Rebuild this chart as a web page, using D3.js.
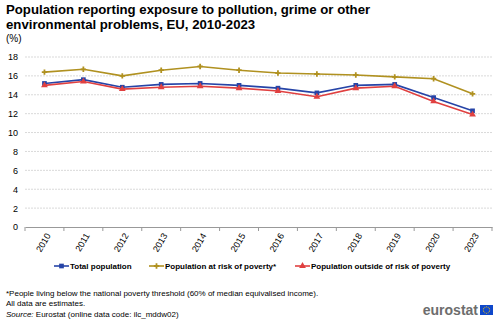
<!DOCTYPE html>
<meta charset="utf-8">
<script src="https://d3js.org/d3.v7.min.js"></script>
<style>
body { margin: 0; background: #fff; }
text { font-family: "Liberation Sans", Arial, sans-serif; fill: #000; }
.grid line { stroke: #d9d9d9; stroke-dasharray: 2,1; }
.line { fill: none; stroke-width: 1.6px; }
</style>
<body>
<div id="chart"></div>
<script>
// data
var years = ['2010','2011','2012','2013','2014','2015','2016','2017','2018','2019','2020','2023'];
var totalPop   = [15.2, 15.6, 14.8, 15.1, 15.2, 15.0, 14.7, 14.2, 15.0, 15.1, 13.7, 12.3];
var riskPop    = [16.4, 16.7, 16.0, 16.6, 17.0, 16.6, 16.3, 16.2, 16.1, 15.9, 15.7, 14.1];
var outsidePop = [15.0, 15.4, 14.6, 14.8, 14.9, 14.7, 14.4, 13.8, 14.7, 14.9, 13.3, 11.9];
var yTicks = [0, 2, 4, 6, 8, 10, 12, 14, 16, 18];

var series = [
    {name: 'Total population', values: totalPop, color: '#2644a7', symbol: d3.symbolSquare, size: 22},
    {name: 'Population at risk of poverty*', values: riskPop, color: '#b09120', symbol: d3.symbolCross, size: 16},
    {name: 'Population outside of risk of poverty', values: outsidePop, color: '#e04040', symbol: d3.symbolTriangle, size: 20}
];

var W = 500, H = 321;
var margin = {top: 57, left: 25, right: 8, bottom: 94};

var svg = d3.select('#chart').append('svg')
    .attr('width', W)
    .attr('height', H);

// titles
svg.append('text')
    .attr('x', 6).attr('y', 14)
    .style('font-size', '13.2px').style('font-weight', 'bold')
    .text('Population reporting exposure to pollution, grime or other');
svg.append('text')
    .attr('x', 6).attr('y', 29)
    .style('font-size', '13.2px').style('font-weight', 'bold')
    .text('environmental problems, EU, 2010-2023');
svg.append('text')
    .attr('x', 6).attr('y', 42)
    .style('font-size', '10px')
    .text('(%)');

// scales
var x = d3.scaleBand()
    .domain(years)
    .range([margin.left, W - margin.right]);

var y = d3.scaleLinear()
    .domain([0, 18])
    .range([227, margin.top]);

// gridlines
svg.append('g')
    .attr('class', 'grid')
    .selectAll('line')
    .data(yTicks.filter(function(d) { return d > 0; }))
    .enter()
    .append('line')
    .attr('x1', margin.left)
    .attr('x2', W - margin.right)
    .attr('y1', function(d) { return y(d); })
    .attr('y2', function(d) { return y(d); });

// y axis labels
var yaxis = d3.axisLeft(y).tickValues(yTicks).tickSize(0).tickPadding(0);
var gy = svg.append('g')
    .attr('transform', 'translate(18,0)')
    .call(yaxis);
gy.select('.domain').remove();
gy.selectAll('text')
    .style('font-size', '9px')
    .style('font-family', '"Liberation Sans", Arial, sans-serif')
    .attr('fill', '#333');

// x axis
var xaxis = d3.axisBottom(x).tickSizeOuter(0).tickSize(0);
var gx = svg.append('g')
    .attr('transform', 'translate(0,227)')
    .call(xaxis);
gx.select('.domain').attr('stroke', '#999');
// band boundary ticks
gx.selectAll('.bandtick')
    .data(d3.range(years.length + 1))
    .enter()
    .append('line')
    .attr('x1', function(i) { return margin.left + i * x.step(); })
    .attr('x2', function(i) { return margin.left + i * x.step(); })
    .attr('y1', 0).attr('y2', 4)
    .attr('stroke', '#999');
gx.selectAll('.tick text')
    .style('font-size', '9px')
    .style('font-family', '"Liberation Sans", Arial, sans-serif')
    .attr('fill', '#444')
    .attr('text-anchor', 'end')
    .attr('dx', 0).attr('dy', 0)
    .attr('transform', 'translate(4,7) rotate(-60)');

// lines and markers
var cx = function(d, i) { return x(years[i]) + x.bandwidth() / 2; };
series.forEach(function(s) {
    var line = d3.line()
        .x(cx)
        .y(function(d) { return y(d); });

    svg.append('path')
        .datum(s.values)
        .attr('class', 'line')
        .attr('stroke', s.color)
        .attr('d', line);

    svg.selectAll(null)
        .data(s.values)
        .enter()
        .append('path')
        .attr('d', d3.symbol().type(s.symbol).size(s.size))
        .attr('transform', function(d, i) { return 'translate(' + cx(d, i) + ',' + y(d) + ')'; })
        .attr('fill', s.color);
});

// legend
var legendX = [54, 149, 295];
var legend = svg.selectAll('.legend')
    .data(series)
    .enter()
    .append('g')
    .attr('class', 'legend')
    .attr('transform', function(d, i) { return 'translate(' + legendX[i] + ',266)'; });

legend.append('line')
    .attr('x1', 0).attr('x2', 15)
    .attr('stroke', function(d) { return d.color; })
    .attr('stroke-width', 1.6);
legend.append('path')
    .attr('d', function(d) { return d3.symbol().type(d.symbol).size(d.size)(); })
    .attr('transform', 'translate(7.5,0)')
    .attr('fill', function(d) { return d.color; });
legend.append('text')
    .attr('x', 16).attr('y', 3)
    .style('font-size', '8px')
    .style('font-weight', 'bold')
    .text(function(d) { return d.name; });

// footnotes
svg.append('text')
    .attr('x', 6).attr('y', 296)
    .style('font-size', '8px')
    .text('*People living below the national poverty threshold (60% of median equivalised income).');
svg.append('text')
    .attr('x', 6).attr('y', 306)
    .style('font-size', '8px')
    .text('All data are estimates.');
var src = svg.append('text')
    .attr('x', 6).attr('y', 317)
    .style('font-size', '8px');
src.append('tspan').style('font-style', 'italic').text('Source:');
src.append('tspan').text(' Eurostat (online data code: ilc_mddw02)');

// logo
svg.append('text')
    .attr('x', 478).attr('y', 315)
    .attr('text-anchor', 'end')
    .style('font-size', '14px')
    .style('font-weight', 'bold')
    .style('fill', '#6d6d6d')
    .text('eurostat');
svg.append('rect')
    .attr('x', 480).attr('y', 305)
    .attr('width', 13).attr('height', 10)
    .attr('fill', '#0e47cb');
svg.selectAll('.star')
    .data(d3.range(12))
    .enter()
    .append('circle')
    .attr('cx', function(i) { return 486.5 + 3.2 * Math.cos(i * Math.PI / 6); })
    .attr('cy', function(i) { return 310 + 3.2 * Math.sin(i * Math.PI / 6); })
    .attr('r', 0.5)
    .attr('fill', '#ffcc00');
</script>
</body>
</html>
